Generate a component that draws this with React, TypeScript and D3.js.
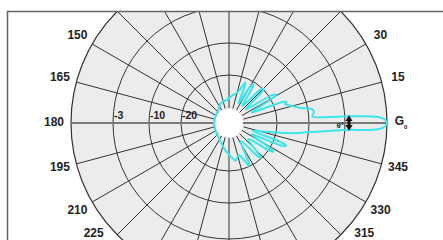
import React from "react";
import * as d3 from "d3";

// gain ring levels (dB) and the radius scale breakpoints
const ringLevels = [-3, -10, -20];
const scaleLevels = [-30, -20, -10, -3, 0];

// angle labels (degrees, counter-clockwise from the right)
const spokeAngles = d3.range(0, 360, 15);
const labelAngles = [30, 15, 0, 345, 330, 315, 150, 165, 180, 195, 210, 225];

// radiation pattern: angle (deg) and gain (dB)
const patternAngles = [
  180, 150, 130, 112, 95, 82, 75, 72, 70, 68, 66.5, 64, 59.5, 57.5, 56, 52, 46.5, 44.5, 43, 39, 33, 31, 29.5, 25, 21.5,
  20, 18.5, 15, 12, 9, 6.5, 4.5, 3.3, 2.3, 1.3, 0, -1.3, -2.4, -3.4, -5, -6.6, -8.2, -10, -12.5, -15, -18, -20.5, -22,
  -23.5, -27, -31.5, -33, -34.5, -40, -46.5, -48, -49.5, -57, -63.5, -65, -66.5, -70, -73, -80, -90, -100, -115, -135,
  -160,
];
const patternGain = [
  -30, -30, -29.5, -28, -27.5, -26, -25, -24, -22.5, -21.3, -23, -28, -21.5, -20.8, -22.5, -28, -20.5, -19.8, -21.5, -28,
  -19, -17.8, -19.5, -27, -17, -15.8, -16.5, -14.5, -12.3, -9, -9, -9.3, -3.5, -0.6, -0.15, 0, -0.15, -0.6, -3, -7,
  -10.3, -13, -17, -22, -25, -27, -17, -15.8, -17.5, -27, -19.5, -18.5, -20, -27, -21, -20.2, -21.5, -28, -21, -20.2,
  -21.5, -23.5, -24.5, -23, -25, -26.5, -28.5, -29.5, -30,
];

export default function App() {
  const width = 443;
  const height = 240;
  const cx = 229;
  const cy = 123;

  const r = d3.scaleLinear().domain(scaleLevels).range([15, 48, 80, 116, 158]).clamp(true);
  const outer = r(0);

  const toXY = (deg: number, rad: number) => {
    const a = (deg * Math.PI) / 180;
    return [cx + rad * Math.cos(a), cy - rad * Math.sin(a)];
  };

  const pattern = patternAngles.map((a, i) => [a, patternGain[i]]);
  const line = d3
    .lineRadial<number[]>()
    .angle((d) => ((90 - d[0]) * Math.PI) / 180)
    .radius((d) => r(d[1]))
    .curve(d3.curveCatmullRomClosed.alpha(0.5));

  const labelR = 175;
  const labelPos = (deg: number) => {
    let [x, y] = toXY(deg, labelR);
    if (y > 234) {
      // slide the label along the circle so it stays inside the picture
      const s = Math.asin((234 - cy) / labelR);
      const left = Math.cos((deg * Math.PI) / 180) < 0;
      x = cx + (left ? -1 : 1) * labelR * Math.cos(s);
      y = 234;
    }
    return [x, y];
  };

  const markX = cx + r(-3) + 4;

  return (
    <svg
      width={width}
      height={height}
      style={{ position: "absolute", left: 0, top: 0, background: "#fff" }}
      fontFamily="'Liberation Sans', Arial, sans-serif"
    >
      <defs>
        <clipPath id="frame">
          <rect x={8} y={12} width={width} height={height} />
        </clipPath>
      </defs>
      <rect x={0} y={0} width={width} height={height} fill="#fff" />
      <g clipPath="url(#frame)">
        <circle cx={cx} cy={cy} r={outer} fill="#ececec" stroke="#333" strokeWidth={1.2} />
        {ringLevels.map((v) => (
          <circle key={v} cx={cx} cy={cy} r={r(v)} fill="none" stroke="#333" strokeWidth={1} />
        ))}
        {spokeAngles
          .filter((a) => a % 180 !== 0)
          .map((a) => {
            const [x1, y1] = toXY(a, r(-30));
            const [x2, y2] = toXY(a, outer);
            return <line key={a} x1={x1} y1={y1} x2={x2} y2={y2} stroke="#333" strokeWidth={1} />;
          })}
        <line x1={cx - outer} y1={cy} x2={cx + outer} y2={cy} stroke="#7a7a7a" strokeWidth={2} />
        <circle cx={cx} cy={cy} r={14} fill="#fff" />
        {ringLevels.map((v) => (
          <text key={v} x={cx - r(v) + 1} y={cy - 4} fontSize={10.5} fontWeight="bold" fill="#222">
            {v}
          </text>
        ))}
        <path d={line(pattern) ?? ""} transform={`translate(${cx},${cy})`} fill="none" stroke="#38e6ec" strokeWidth={2} />
        <text x={markX - 5} y={cy + 5} fontSize={8} fontWeight="bold" fill="#222" textAnchor="end">
          θ°
        </text>
        <path
          d={`M${markX},${cy - 8}L${markX + 3.5},${cy - 2}L${markX + 1.5},${cy - 2}L${markX + 1.5},${cy + 2}L${markX + 3.5},${cy + 2}L${markX},${cy + 8}L${markX - 3.5},${cy + 2}L${markX - 1.5},${cy + 2}L${markX - 1.5},${cy - 2}L${markX - 3.5},${cy - 2}Z`}
          fill="#111"
        />
        {labelAngles.map((a) => {
          const [x, y] = labelPos(a);
          if (a === 0) {
            return (
              <text key={a} x={x - 3} y={y - 1} fontSize={12} fontWeight="bold" fill="#222" textAnchor="middle" dominantBaseline="middle">
                G
                <tspan fontSize={6} dy={5}>
                  0
                </tspan>
              </text>
            );
          }
          return (
            <text key={a} x={x} y={y} fontSize={12} fontWeight="bold" fill="#222" textAnchor="middle" dominantBaseline="middle">
              {a}
            </text>
          );
        })}
      </g>
      <path d={`M7.5,${height}V11.5H${width}`} fill="none" stroke="#666" strokeWidth={1.5} />
    </svg>
  );
}
